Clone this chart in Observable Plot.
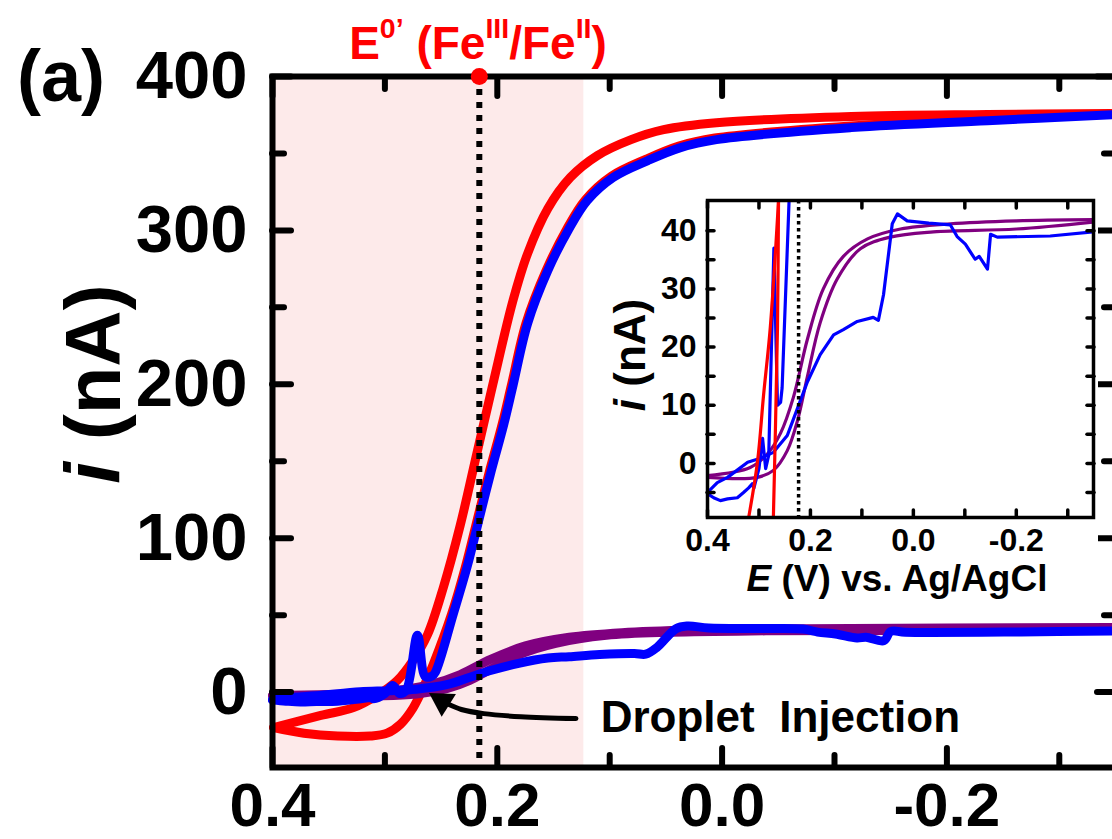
<!DOCTYPE html>
<html><head><meta charset="utf-8">
<script src="https://cdn.jsdelivr.net/npm/d3@7"></script>
<script src="https://cdn.jsdelivr.net/npm/@observablehq/plot@0.6"></script>
<style>
html,body{margin:0;padding:0;background:#fff;overflow:hidden;width:1112px;height:839px;}
#wrap{position:relative;width:1112px;height:839px;overflow:hidden;font-family:"Liberation Sans",Arial,sans-serif;font-weight:bold;color:#000;}
#wrap svg{position:absolute;max-width:none !important;}
.lbl{position:absolute;white-space:nowrap;line-height:1;transform:translate(-50%,-50%);}
.lbl sup{font-size:0.62em;vertical-align:0.75em;line-height:0;}
</style></head><body><div id="wrap"></div>
<script>
// ---------- data: potential E (V vs Ag/AgCl), current i (nA) ----------
const redOuter = [[0.399,-23.0],[0.357,-15.2],[0.328,-10.1],[0.307,-2.2],[0.289,7.5],[0.275,20.5],[0.262,37.4],[0.248,68],[0.233,108.3],[0.218,155.7],[0.204,199.9],[0.186,254.5],[0.173,285],[0.155,314.2],[0.135,334.4],[0.111,348.6],[0.081,359],[0.052,365.5],[0.005,370],[-0.115,374],[-0.236,375.3],[-0.35,376]];
const redInner = [[0.399,-23.0],[0.372,-26.7],[0.342,-28.6],[0.313,-28.6],[0.298,-26.7],[0.286,-20.8],[0.275,-10.4],[0.266,2.6],[0.257,18],[0.2405,51.1],[0.2285,81],[0.2165,116],[0.2075,142],[0.1955,174.6],[0.1875,199.3],[0.1745,239.6],[0.1565,274],[0.1385,300.5],[0.1215,320],[0.0985,335.2],[0.0675,346.3],[0.0385,354.8],[0.0065,360],[-0.114,367.8],[-0.235,372.2],[-0.35,375.8]];
const blueSweep1 = [[0.40,-5.2],[0.388,-5.9],[0.375,-6.4],[0.361,-6.1],[0.342,-5.9],[0.33,-5.0],[0.32,-4.2],[0.313,-3.5],[0.31,-4.3],[0.30,-0.9],[0.293,4.3],[0.287,-0.9],[0.281,1.4],[0.271,37],[0.264,10],[0.258,10.5],[0.255,13],[0.239,51.1],[0.227,81],[0.215,116],[0.206,142],[0.194,174.6],[0.186,199.3],[0.173,239.6],[0.155,274],[0.137,300],[0.120,319.4],[0.097,334.4],[0.066,345.4],[0.037,353.8],[0.005,359],[-0.115,366.8],[-0.236,371.3],[-0.35,375.2]];
const blueSweep2 = [[0.40,-5.0],[0.381,-3.3],[0.361,-2.4],[0.322,0.2],[0.297,0.9],[0.272,1.9],[0.245,4.8],[0.225,9.5],[0.206,14],[0.181,18.7],[0.155,22.1],[0.136,23],[0.109,24.4],[0.078,25.1],[0.068,24.6],[0.058,29],[0.041,41.2],[0.031,42.9],[0.012,41.7],[-0.03,41.3],[-0.072,41],[-0.085,39],[-0.101,37.7],[-0.12,35.1],[-0.128,35.6],[-0.144,33.4],[-0.15,39.4],[-0.163,38.9],[-0.266,39.1],[-0.35,39.8]];
const purpleA = [[0.40,-2.1],[0.317,-0.7],[0.283,1.7],[0.258,5.2],[0.233,11.4],[0.206,21.3],[0.175,30],[0.136,35.6],[0.089,38.6],[0.025,40.3],[-0.072,41.2],[-0.2,41.7],[-0.35,41.9]];
const purpleB = [[0.40,-2.4],[0.303,-2.4],[0.272,-1.2],[0.245,2.2],[0.225,7.4],[0.206,14.9],[0.181,24.2],[0.148,31.7],[0.103,36.9],[0.045,38.9],[-0.039,39.8],[-0.2,40.3],[-0.35,41.5]];
// inset-only red traces (steep parts as seen in the inset)
const insetRedA = [[0.320,-9.3],[0.303,0.2],[0.291,11.8],[0.278,23.4],[0.262,45.2]];
const insetRedB = [[0.272,-9.3],[0.268,6],[0.264,23.4],[0.262,45.2]];

const E0 = 0.216;                 // formal potential marker
const shadeRange = [0.4, 0.123];  // shaded region
const annotation = [{E: 0.108, I: -16.5, text: "Droplet\u00a0 Injection"}];
const arrowShaft = [[0.130,-17.2],[0.179,-16.0],[0.212,-14.0],[0.232,-11.3],[0.244,-7.8]];
const arrowHead = [{E: 0.249, I: -6.0}];

const xDomain = [0.4, -0.35], yDomain = [-49, 400];
const xMajor = [0.4, 0.2, 0.0, -0.2], xMinor = [0.3, 0.1, -0.1, -0.3];
const yMajor = [0, 100, 200, 300, 400], yMinor = [50, 150, 250, 350];
const insetYDomain = [-9.3, 45.2];
const insetYLabels = [0, 10, 20, 30, 40];
const insetYTicks = [-5, 0, 5, 10, 15, 20, 25, 30, 35, 40];
const insetXLabels = [0.4, 0.2, 0.0, -0.2];
const insetXTicks = [0.4, 0.3, 0.2, 0.1, 0.0, -0.1, -0.2, -0.3];

const rows = a => a.map(([E, I]) => ({E, I}));
const fmtX = d => d.toFixed(1);

function tickMarks(kind, anchors, ticks, size, sw) {
  const f = kind === "x" ? Plot.axisX : Plot.axisY;
  return anchors.map(anchor => f({anchor, ticks, tickSize: -size, strokeWidth: sw, strokeLinecap: "round", tickFormat: () => "", label: null}));
}

const font = "'Liberation Sans', Arial, sans-serif";

// ---------- main chart ----------
const lw = 9;
const main = Plot.plot({
  width: 1125, height: 839,
  marginLeft: 272, marginRight: 10, marginTop: 76, marginBottom: 72,
  x: {domain: xDomain, label: null},
  y: {domain: yDomain, label: null},
  style: {fontFamily: font, fontWeight: "bold", background: "transparent", overflow: "visible", maxWidth: "none"},
  marks: [
    Plot.rect([shadeRange], {x1: d => d[0], x2: d => d[1], fill: "#fdeaea"}),
    Plot.line(rows(redOuter), {x: "E", y: "I", stroke: "#ff0000", strokeWidth: lw, curve: "catmull-rom"}),
    Plot.line(rows(redInner), {x: "E", y: "I", stroke: "#ff0000", strokeWidth: lw, curve: "catmull-rom"}),
    Plot.line(rows(purpleA), {x: "E", y: "I", stroke: "#800080", strokeWidth: lw, curve: "catmull-rom"}),
    Plot.line(rows(purpleB), {x: "E", y: "I", stroke: "#800080", strokeWidth: lw, curve: "catmull-rom"}),
    Plot.line(rows(blueSweep2), {x: "E", y: "I", stroke: "#0000ff", strokeWidth: lw, curve: "catmull-rom", strokeLinejoin: "round"}),
    Plot.line(rows(blueSweep1), {x: "E", y: "I", stroke: "#0000ff", strokeWidth: lw, curve: "catmull-rom", strokeLinejoin: "round"}),
    Plot.ruleX([E0], {x: d => d, stroke: "#000", strokeWidth: 6, strokeDasharray: "6,7"}),
    Plot.line(rows(arrowShaft), {x: "E", y: "I", stroke: "#000", strokeWidth: 5, curve: "catmull-rom"}),
    Plot.dot(arrowHead, {x: "E", y: "I", symbol: "triangle", r: 10, rotate: -58, fill: "#000", stroke: "none"}),
    Plot.text(annotation, {x: "E", y: "I", text: "text", textAnchor: "start", fontSize: 44, fontWeight: "bold", fill: "#000"}),
    Plot.frame({stroke: "#000", strokeWidth: 6}),
    Plot.dot([E0], {x: d => d, frameAnchor: "top", r: 8.5, fill: "#ff0000", stroke: "none"}),
    ...tickMarks("x", ["bottom", "top"], xMajor, 19, 6),
    ...tickMarks("x", ["bottom", "top"], xMinor, 12, 6),
    ...tickMarks("y", ["left", "right"], yMajor, 19, 6),
    ...tickMarks("y", ["left", "right"], yMinor, 12, 6),
    Plot.axisX({anchor: "bottom", ticks: xMajor, tickSize: 0, tickPadding: 14, tickFormat: fmtX, fontSize: 62, fontWeight: "bold", label: null}),
    Plot.axisY({anchor: "left", ticks: yMajor, tickSize: 0, tickPadding: 25, tickFormat: d => String(d), fontSize: 67, fontWeight: "bold", label: null})
  ]
});
main.style.left = "0px"; main.style.top = "0px";

// ---------- inset ----------
const ilw = 3.2;
const inset = Plot.plot({
  width: 458, height: 407,
  marginLeft: 67, marginRight: 5, marginTop: 10, marginBottom: 80,
  x: {domain: xDomain, label: null},
  y: {domain: insetYDomain, label: null},
  style: {fontFamily: font, fontWeight: "bold", background: "white", maxWidth: "none"},
  marks: [
    Plot.line(rows(purpleA), {x: "E", y: "I", stroke: "#800080", strokeWidth: ilw, curve: "catmull-rom", clip: true}),
    Plot.line(rows(purpleB), {x: "E", y: "I", stroke: "#800080", strokeWidth: ilw, curve: "catmull-rom", clip: true}),
    Plot.line(rows(blueSweep2), {x: "E", y: "I", stroke: "#0000ff", strokeWidth: ilw, clip: true}),
    Plot.line(rows(blueSweep1), {x: "E", y: "I", stroke: "#0000ff", strokeWidth: ilw, clip: true}),
    Plot.line(rows(insetRedA), {x: "E", y: "I", stroke: "#ff0000", strokeWidth: ilw, curve: "catmull-rom", clip: true}),
    Plot.line(rows(insetRedB), {x: "E", y: "I", stroke: "#ff0000", strokeWidth: ilw, curve: "catmull-rom", clip: true}),
    Plot.ruleX([E0 + 0.007], {x: d => d, stroke: "#000", strokeWidth: 3.5, strokeDasharray: "3.5,3.5"}),
    Plot.frame({stroke: "#000", strokeWidth: 3.5}),
    ...tickMarks("x", ["bottom", "top"], insetXTicks, 7, 3.5),
    ...tickMarks("y", ["left", "right"], insetYTicks, 7, 3.5),
    Plot.axisX({anchor: "bottom", ticks: insetXLabels, tickSize: 0, tickPadding: 11, tickFormat: fmtX, fontSize: 32, fontWeight: "bold", label: null}),
    Plot.axisY({anchor: "left", ticks: insetYLabels, tickSize: 0, tickPadding: 11, tickFormat: d => String(d), fontSize: 32, fontWeight: "bold", label: null})
  ]
});
inset.style.left = "640px"; inset.style.top = "190px";

const wrap = document.getElementById("wrap");
wrap.appendChild(main);
wrap.appendChild(inset);

// ---------- text labels ----------
function addLabel(html, cx, cy, size, extra) {
  const d = document.createElement("div");
  d.className = "lbl";
  d.innerHTML = html;
  d.style.left = cx + "px"; d.style.top = cy + "px";
  d.style.fontSize = size + "px";
  if (extra) Object.assign(d.style, extra);
  wrap.appendChild(d);
}
addLabel("(a)", 61, 76, 72);
addLabel("<i>i</i> (nA)", 93, 384, 78, {transform: "translate(-50%,-50%) rotate(-90deg)"});
addLabel("E<sup>0’</sup> (Fe<sup>III</sup>/Fe<sup>II</sup>)", 478, 43, 46, {color: "#ff0000"});
addLabel("<i>E</i> (V) vs. Ag/AgCl", 897, 578, 37);
addLabel("<i>i</i> (nA)", 630, 355, 44, {transform: "translate(-50%,-50%) rotate(-90deg)"});
</script></body></html>
